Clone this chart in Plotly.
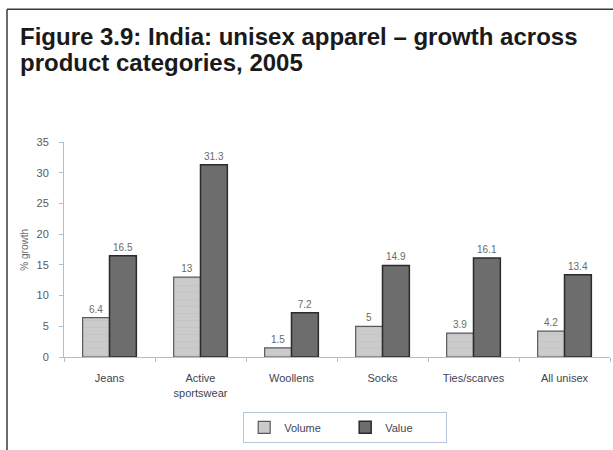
import plotly.graph_objects as go

categories = ["Jeans", "Active<br>sportswear", "Woollens", "Socks", "Ties/scarves", "All unisex"]
volume = [6.4, 13, 1.5, 5, 3.9, 4.2]
value = [16.5, 31.3, 7.2, 14.9, 16.1, 13.4]
y_ticks = [0, 5, 10, 15, 20, 25, 30, 35]
title_lines = ["Figure 3.9: India: unisex apparel – growth across", "product categories, 2005"]

FONT = "Liberation Sans, Arial, sans-serif"
AXIS_COLOR = "#aebfd2"

fig = go.Figure()
fig.add_trace(go.Bar(
    name="Volume", x=categories, y=volume,
    marker=dict(color="#c9c9c9", line=dict(color="#5a5a5a", width=1.2),
                pattern=dict(shape="-", fgcolor="#b9b9b9", bgcolor="#cbcbcb", size=7, solidity=0.1)),
    text=[str(v) for v in volume], textposition="outside",
    textfont=dict(family=FONT, size=10, color="#6a6a6a"), cliponaxis=False,
))
fig.add_trace(go.Bar(
    name="Value", x=categories, y=value,
    marker=dict(color="#6d6d6d", line=dict(color="#2b2b2b", width=1.5)),
    text=[str(v) for v in value], textposition="outside",
    textfont=dict(family=FONT, size=10, color="#6a6a6a"), cliponaxis=False,
))

fig.update_layout(
    width=613, height=450,
    margin=dict(l=64, r=3, t=142, b=93, autoexpand=False),
    paper_bgcolor="white", plot_bgcolor="white",
    barmode="group", bargap=0.41, bargroupgap=0,
    font=dict(family=FONT, color="#404650"),
    xaxis=dict(
        showline=True, linecolor=AXIS_COLOR, linewidth=1,
        ticks="outside", tickson="boundaries", ticklen=4, tickcolor=AXIS_COLOR,
        tickfont=dict(family=FONT, size=11, color="#3d4452"),
        ticklabelstandoff=11,
        showgrid=False, zeroline=False,
    ),
    yaxis=dict(
        range=[0, 35], tickvals=y_ticks,
        showline=True, linecolor=AXIS_COLOR, linewidth=1,
        ticks="outside", ticklen=4, tickcolor=AXIS_COLOR,
        tickfont=dict(family=FONT, size=11, color="#5a5a5a"),
        ticklabelstandoff=8,
        showgrid=False, zeroline=False,
    ),
    legend=dict(
        orientation="h", x=0.515, xanchor="center", y=-0.255, yanchor="top",
        bordercolor="#b3c6da", borderwidth=1,
        font=dict(family=FONT, size=11, color="#404650"),
        itemwidth=30, entrywidth=56,
    ),
    showlegend=True,
)

# title lines (annotations in paper units relative to the plot area)
for i, line in enumerate(title_lines):
    fig.add_annotation(
        text=f"<b>{line}</b>",
        showarrow=False, xref="paper", yref="paper",
        x=(18 - 64) / 546, y=(357.5 - (21 + 26 * i)) / 215.5,
        xanchor="left", yanchor="top", align="left",
        font=dict(family=FONT, size=24, color="#1a1a1a"),
    )

fig.add_annotation(
    text="% growth", textangle=-90, showarrow=False,
    xref="paper", yref="paper", x=-0.073, y=0.5, xanchor="center", yanchor="middle",
    font=dict(family=FONT, size=10, color="#6a6a6a"),
)

# outer frame (top and left edges visible; continues past the image)
fig.add_shape(type="line", xref="paper", yref="paper",
              x0=(7 - 64) / 546, x1=1.05, y0=(357.5 - 9) / 215.5, y1=(357.5 - 9) / 215.5,
              line=dict(color="#3a3a3a", width=1.5), layer="above")
fig.add_shape(type="line", xref="paper", yref="paper",
              x0=(7 - 64) / 546, x1=(7 - 64) / 546, y0=-0.6, y1=(357.5 - 9) / 215.5,
              line=dict(color="#3a3a3a", width=1.5), layer="above")

fig.write_html(
    "out.html",
    config={"displayModeBar": False},
    post_script="document.body.style.margin='0';document.body.style.overflow='hidden';",
)
